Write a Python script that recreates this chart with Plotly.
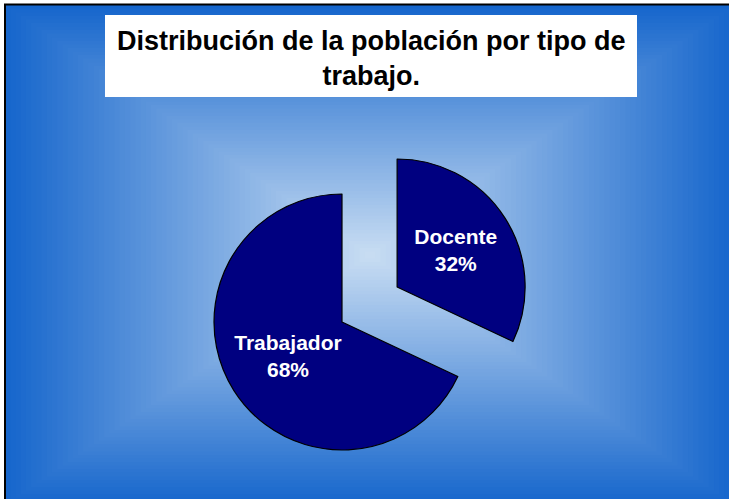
import plotly.graph_objects as go
import numpy as np

# data
labels = ['Docente', 'Trabajador']
values = [32, 68]
title_text = 'Distribución de la población por tipo de<br>trabajo.'

W, H = 729, 499


def px(x):
    return x / W


def py(y):
    return 1 - y / H


shapes = []

# rectangular "from center" gradient made of nested rectangles
edge = np.array([22, 102, 204])
center = np.array([202, 222, 243])
gx0, gx1, gy0, gy1 = 5, 735, 5, 505
cx, cy = (gx0 + gx1) / 2, (gy0 + gy1) / 2
hw, hh = (gx1 - gx0) / 2, (gy1 - gy0) / 2
N = 70
for i in range(N):
    f = i / N
    c = edge + (center - edge) * f
    shapes.append(dict(
        type='rect', xref='paper', yref='paper', layer='below',
        x0=px(cx - hw * (1 - f)), x1=px(cx + hw * (1 - f)),
        y0=py(cy + hh * (1 - f)), y1=py(cy - hh * (1 - f)),
        line=dict(width=0),
        fillcolor='rgb(%d,%d,%d)' % tuple(c.round()),
    ))

# chart frame
shapes.append(dict(type='rect', xref='paper', yref='paper', layer='below',
                   x0=px(5), x1=px(745), y0=py(515), y1=py(4.5),
                   line=dict(color='black', width=2), fillcolor='rgba(0,0,0,0)'))
# white title box
shapes.append(dict(type='rect', xref='paper', yref='paper', layer='below',
                   x0=px(105), x1=px(637), y0=py(97), y1=py(15),
                   line=dict(width=0), fillcolor='white'))

# pie geometry (pixels)
pie_cx, pie_cy, r = 342, 322, 128
pull = 0.51
mid = 2 * np.pi * (values[0] / sum(values)) / 2  # bisector of Docente, clockwise from 12 o'clock
dx, dy = pull * r * np.sin(mid), -pull * r * np.cos(mid)


def dom(x, y):
    return dict(x=[px(x - r), px(x + r)], y=[py(y + r), py(y - r)])


navy = '#000080'
clear = 'rgba(0,0,0,0)'
common = dict(
    labels=labels, values=values, sort=False, direction='clockwise', rotation=0,
    textposition='inside', insidetextorientation='horizontal',
    textfont=dict(family='Arial', size=21, color='white'),
    hoverinfo='skip', showlegend=False,
)

fig = go.Figure()
fig.add_trace(go.Pie(
    domain=dom(pie_cx, pie_cy),
    marker=dict(colors=[clear, navy], line=dict(color=[clear, 'black'], width=1.2)),
    texttemplate=['', '<b>%{label}<br>%{percent}</b>'],
    **common
))
fig.add_trace(go.Pie(
    domain=dom(pie_cx + dx, pie_cy + dy),
    marker=dict(colors=[navy, clear], line=dict(color=['black', clear], width=1.2)),
    texttemplate=['<b>%{label}<br>%{percent}</b>', ''],
    **common
))

fig.update_layout(
    width=W, height=H,
    margin=dict(l=0, r=0, t=0, b=0),
    paper_bgcolor='white',
    shapes=shapes,
    annotations=[dict(
        text='<b>' + title_text + '</b>', xref='paper', yref='paper',
        x=px(371), y=py(58), xanchor='center', yanchor='middle', showarrow=False,
        font=dict(family='Arial', size=27, color='black'),
    )],
)

fig.write_html('out.html', config={'displayModeBar': False},
               post_script="document.body.style.margin='0';document.body.style.overflow='hidden';")
